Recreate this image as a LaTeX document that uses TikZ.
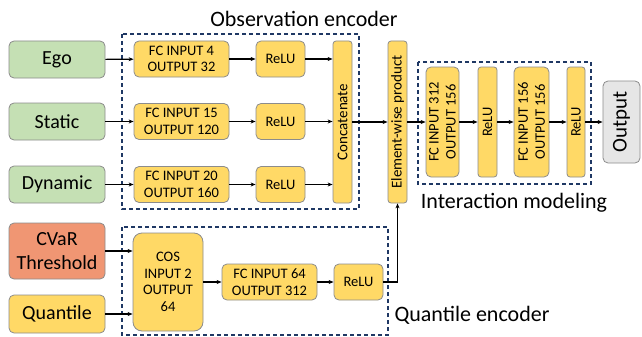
\documentclass[tikz,border=0pt]{standalone}
\usepackage{fontspec}
\setmainfont{Carlito}
\usetikzlibrary{arrows.meta}
\definecolor{ygold}{RGB}{255,217,102}
\definecolor{ggreen}{RGB}{197,224,180}
\definecolor{salmon}{RGB}{240,150,115}
\definecolor{lgray}{RGB}{230,230,230}
\definecolor{bordergray}{RGB}{140,140,140}
\definecolor{navy}{RGB}{31,56,100}
\tikzset{
  base/.style={draw=bordergray, line width=0.8pt, rounded corners=5pt, inner sep=0pt, align=center},
  ybox/.style={base, fill=ygold, font=\fontsize{14.5}{16.5}\selectfont},
  vbox/.style={base, fill=ygold, rotate=90, font=\fontsize{15}{17}\selectfont},
  gbox/.style={base, fill=ggreen, font=\fontsize{20}{23}\selectfont, minimum width=96pt, minimum height=37pt},
  arr/.style={-{Stealth[length=5pt,width=4pt]}, line width=1.1pt, black},
  enc/.style={draw=navy, line width=1.2pt, dash pattern=on 4pt off 3pt},
  ttl/.style={font=\fontsize{22}{24}\selectfont, inner sep=0pt}
}
\begin{document}
\begin{tikzpicture}[x=1pt,y=-1pt]
\useasboundingbox (0,0) rectangle (642,337);
% encoder frames
\draw[enc] (122,34) rectangle (359,209);
\draw[enc] (418,62) rectangle (591,184);
\draw[enc] (122,227) rectangle (388,335);
% titles
\node[ttl] (t1) at (304,19) {Observation encoder};
\node[ttl] (t2) at (514,203) {Interaction modeling};
\node[ttl] (t3) at (472,315) {Quantile encoder};
% inputs
\node[gbox] (ego) at (57,59.5) {Ego};
\node[gbox] (static) at (57,121.5) {Static};
\node[gbox] (dyn) at (57,184.5) {Dynamic};
\node[base, fill=salmon, font=\fontsize{20}{24}\selectfont, minimum width=96pt, minimum height=56pt] (cvar) at (57,251) {CVaR\\Threshold};
\node[base, fill=ygold, font=\fontsize{20}{23}\selectfont, minimum width=96pt, minimum height=38pt] (quant) at (57,314) {Quantile};
% observation encoder
\node[ybox, minimum width=95pt, minimum height=36pt] (fc1) at (181.5,59) {FC INPUT 4\\OUTPUT 32};
\node[ybox, minimum width=49pt, minimum height=36pt] (r1) at (280.5,59) {ReLU};
\node[ybox, minimum width=95pt, minimum height=36pt] (fc2) at (181.5,121.5) {FC INPUT 15\\OUTPUT 120};
\node[ybox, minimum width=49pt, minimum height=36pt] (r2) at (280.5,121.5) {ReLU};
\node[ybox, minimum width=95pt, minimum height=36pt] (fc3) at (181.5,184.5) {FC INPUT 20\\OUTPUT 160};
\node[ybox, minimum width=49pt, minimum height=36pt] (r3) at (280.5,184.5) {ReLU};
\node[vbox, rounded corners=3pt, minimum width=162pt, minimum height=19pt] (cat) at (342.5,122) {Concatenate};
\node[vbox, rounded corners=3pt, minimum width=162pt, minimum height=19pt] (elem) at (397.5,122) {Element-wise product};
% interaction modeling
\node[vbox, font=\fontsize{14.5}{17}\selectfont, minimum width=110pt, minimum height=33pt] (fc4) at (442.5,122) {FC INPUT 312\\OUTPUT 156};
\node[vbox, rounded corners=3pt, font=\fontsize{14.5}{17}\selectfont, minimum width=110pt, minimum height=19pt] (r4) at (487.5,122) {ReLU};
\node[vbox, font=\fontsize{14.5}{17}\selectfont, minimum width=110pt, minimum height=35pt] (fc5) at (531.5,122) {FC INPUT 156\\OUTPUT 156};
\node[vbox, rounded corners=3pt, font=\fontsize{14.5}{17}\selectfont, minimum width=110pt, minimum height=18pt] (r5) at (576,122) {ReLU};
\node[base, fill=lgray, rotate=90, font=\fontsize{21}{23}\selectfont, minimum width=82pt, minimum height=37pt] (out) at (621.5,122) {Output};
% quantile encoder
\node[ybox, rounded corners=9pt, minimum width=70pt, minimum height=98pt] (cos) at (168,282) {COS\\INPUT 2\\OUTPUT\\64};
\node[ybox, minimum width=95pt, minimum height=36pt] (fc6) at (269.5,282) {FC INPUT 64\\OUTPUT 312};
\node[ybox, minimum width=49pt, minimum height=36pt] (r6) at (358.5,282) {ReLU};
% connectors
\draw[arr] (ego) -- (fc1);
\draw[arr] (static) -- (fc2);
\draw[arr] (dyn) -- (fc3);
\draw[arr] (fc1) -- (r1);
\draw[arr] (fc2) -- (r2);
\draw[arr] (fc3) -- (r3);
\draw[arr] (r1.east) -- (r1 -| cat.north);
\draw[arr] (r2.east) -- (r2 -| cat.north);
\draw[arr] (r3.east) -- (r3 -| cat.north);
\draw[arr] (cat) -- (elem);
\draw[arr] (elem) -- (fc4);
\draw[arr] (fc4) -- (r4);
\draw[arr] (r4) -- (fc5);
\draw[arr] (fc5) -- (r5);
\draw[arr] (r5) -- (out);
\draw[arr] (cvar.east) -- (cvar -| cos.west);
\draw[arr] (quant.east) -- (quant -| cos.west);
\draw[arr] (cos) -- (fc6);
\draw[arr] (fc6) -- (r6);
\draw[arr] (r6.east) -| (elem.west);
\end{tikzpicture}
\end{document}
